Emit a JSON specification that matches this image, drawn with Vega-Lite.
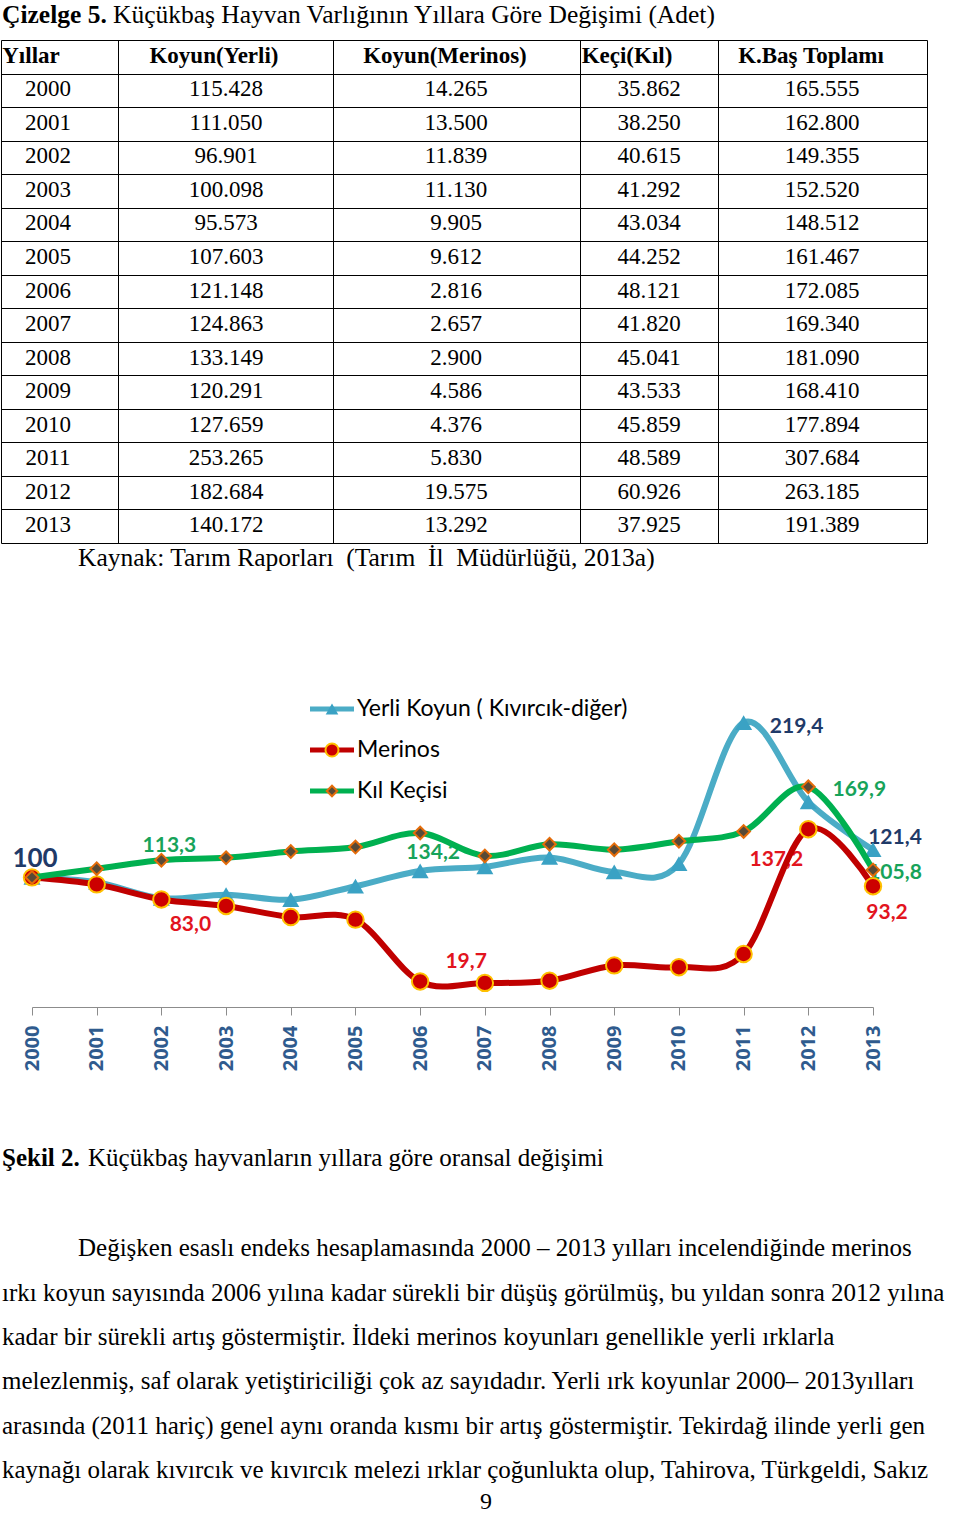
{
  "$schema": "https://vega.github.io/schema/vega-lite/v6.json",
  "width": 960,
  "height": 1514,
  "padding": 0,
  "autosize": {"type": "none"},
  "background": "#ffffff",
  "config": {
    "view": {"stroke": null},
    "locale": {"number": {"decimal": ",", "thousands": ".", "grouping": [3], "currency": ["", " TL"]}}
  },
  "datasets": {
    "tablo": [
      {"Yil": 2000, "Yerli": 115428, "Merinos": 14265, "Keci": 35862, "Toplam": 165555},
      {"Yil": 2001, "Yerli": 111050, "Merinos": 13500, "Keci": 38250, "Toplam": 162800},
      {"Yil": 2002, "Yerli": 96901, "Merinos": 11839, "Keci": 40615, "Toplam": 149355},
      {"Yil": 2003, "Yerli": 100098, "Merinos": 11130, "Keci": 41292, "Toplam": 152520},
      {"Yil": 2004, "Yerli": 95573, "Merinos": 9905, "Keci": 43034, "Toplam": 148512},
      {"Yil": 2005, "Yerli": 107603, "Merinos": 9612, "Keci": 44252, "Toplam": 161467},
      {"Yil": 2006, "Yerli": 121148, "Merinos": 2816, "Keci": 48121, "Toplam": 172085},
      {"Yil": 2007, "Yerli": 124863, "Merinos": 2657, "Keci": 41820, "Toplam": 169340},
      {"Yil": 2008, "Yerli": 133149, "Merinos": 2900, "Keci": 45041, "Toplam": 181090},
      {"Yil": 2009, "Yerli": 120291, "Merinos": 4586, "Keci": 43533, "Toplam": 168410},
      {"Yil": 2010, "Yerli": 127659, "Merinos": 4376, "Keci": 45859, "Toplam": 177894},
      {"Yil": 2011, "Yerli": 253265, "Merinos": 5830, "Keci": 48589, "Toplam": 307684},
      {"Yil": 2012, "Yerli": 182684, "Merinos": 19575, "Keci": 60926, "Toplam": 263185},
      {"Yil": 2013, "Yerli": 140172, "Merinos": 13292, "Keci": 37925, "Toplam": 191389}
    ],
    "sutunlar": [
      {"alan": "Yil", "baslik": "Yıllar", "sira": 1},
      {"alan": "Yerli", "baslik": "Koyun(Yerli)", "sira": 2},
      {"alan": "Merinos", "baslik": "Koyun(Merinos)", "sira": 3},
      {"alan": "Keci", "baslik": "Keçi(Kıl)", "sira": 4},
      {"alan": "Toplam", "baslik": "K.Baş Toplamı", "sira": 5}
    ],
    "endeks": [
      {"Yil": 2000, "seri": "Yerli Koyun ( Kıvırcık-diğer)", "endeks": 100},
      {"Yil": 2001, "seri": "Yerli Koyun ( Kıvırcık-diğer)", "endeks": 96.2},
      {"Yil": 2002, "seri": "Yerli Koyun ( Kıvırcık-diğer)", "endeks": 83.9},
      {"Yil": 2003, "seri": "Yerli Koyun ( Kıvırcık-diğer)", "endeks": 86.7},
      {"Yil": 2004, "seri": "Yerli Koyun ( Kıvırcık-diğer)", "endeks": 82.8},
      {"Yil": 2005, "seri": "Yerli Koyun ( Kıvırcık-diğer)", "endeks": 93.2},
      {"Yil": 2006, "seri": "Yerli Koyun ( Kıvırcık-diğer)", "endeks": 105.0},
      {"Yil": 2007, "seri": "Yerli Koyun ( Kıvırcık-diğer)", "endeks": 108.2},
      {"Yil": 2008, "seri": "Yerli Koyun ( Kıvırcık-diğer)", "endeks": 115.4},
      {"Yil": 2009, "seri": "Yerli Koyun ( Kıvırcık-diğer)", "endeks": 104.2},
      {"Yil": 2010, "seri": "Yerli Koyun ( Kıvırcık-diğer)", "endeks": 110.6},
      {"Yil": 2011, "seri": "Yerli Koyun ( Kıvırcık-diğer)", "endeks": 219.4},
      {"Yil": 2012, "seri": "Yerli Koyun ( Kıvırcık-diğer)", "endeks": 158.3},
      {"Yil": 2013, "seri": "Yerli Koyun ( Kıvırcık-diğer)", "endeks": 121.4},
      {"Yil": 2000, "seri": "Merinos", "endeks": 100},
      {"Yil": 2001, "seri": "Merinos", "endeks": 94.6},
      {"Yil": 2002, "seri": "Merinos", "endeks": 83.0},
      {"Yil": 2003, "seri": "Merinos", "endeks": 78.0},
      {"Yil": 2004, "seri": "Merinos", "endeks": 69.4},
      {"Yil": 2005, "seri": "Merinos", "endeks": 67.4},
      {"Yil": 2006, "seri": "Merinos", "endeks": 19.7},
      {"Yil": 2007, "seri": "Merinos", "endeks": 18.6},
      {"Yil": 2008, "seri": "Merinos", "endeks": 20.3},
      {"Yil": 2009, "seri": "Merinos", "endeks": 32.1},
      {"Yil": 2010, "seri": "Merinos", "endeks": 30.7},
      {"Yil": 2011, "seri": "Merinos", "endeks": 40.9},
      {"Yil": 2012, "seri": "Merinos", "endeks": 137.2},
      {"Yil": 2013, "seri": "Merinos", "endeks": 93.2},
      {"Yil": 2000, "seri": "Kıl Keçisi", "endeks": 100},
      {"Yil": 2001, "seri": "Kıl Keçisi", "endeks": 106.7},
      {"Yil": 2002, "seri": "Kıl Keçisi", "endeks": 113.3},
      {"Yil": 2003, "seri": "Kıl Keçisi", "endeks": 115.1},
      {"Yil": 2004, "seri": "Kıl Keçisi", "endeks": 120.0},
      {"Yil": 2005, "seri": "Kıl Keçisi", "endeks": 123.4},
      {"Yil": 2006, "seri": "Kıl Keçisi", "endeks": 134.2},
      {"Yil": 2007, "seri": "Kıl Keçisi", "endeks": 116.6},
      {"Yil": 2008, "seri": "Kıl Keçisi", "endeks": 125.6},
      {"Yil": 2009, "seri": "Kıl Keçisi", "endeks": 121.4},
      {"Yil": 2010, "seri": "Kıl Keçisi", "endeks": 127.9},
      {"Yil": 2011, "seri": "Kıl Keçisi", "endeks": 135.5},
      {"Yil": 2012, "seri": "Kıl Keçisi", "endeks": 169.9},
      {"Yil": 2013, "seri": "Kıl Keçisi", "endeks": 105.8}
    ],
    "yazilar": [
      {"satir": 1, "metin": "Çizelge 5."},
      {"satir": 1, "metin": "Küçükbaş Hayvan Varlığının Yıllara Göre Değişimi (Adet)"},
      {"satir": 2, "metin": "Kaynak: Tarım Raporları\u00a0 (Tarım\u00a0 İl\u00a0 Müdürlüğü, 2013a)"},
      {"satir": 3, "metin": "Şekil 2."},
      {"satir": 3, "metin": "Küçükbaş hayvanların yıllara göre oransal değişimi"},
      {"satir": 4, "metin": "Değişken esaslı endeks hesaplamasında 2000 – 2013 yılları incelendiğinde merinos"},
      {"satir": 5, "metin": "ırkı koyun sayısında 2006 yılına kadar sürekli bir düşüş görülmüş, bu yıldan sonra 2012 yılına"},
      {"satir": 6, "metin": "kadar bir sürekli artış göstermiştir. İldeki merinos koyunları genellikle yerli ırklarla"},
      {"satir": 7, "metin": "melezlenmiş, saf olarak yetiştiriciliği çok az sayıdadır. Yerli ırk koyunlar 2000– 2013yılları"},
      {"satir": 8, "metin": "arasında (2011 hariç) genel aynı oranda kısmı bir artış göstermiştir. Tekirdağ ilinde yerli gen"},
      {"satir": 9, "metin": "kaynağı olarak kıvırcık ve kıvırcık melezi ırklar çoğunlukta olup, Tahirova, Türkgeldi, Sakız"},
      {"satir": 10, "metin": "9"}
    ]
  },
  "resolve": {"scale": {"x": "independent", "y": "independent", "color": "independent", "shape": "independent", "fill": "independent", "stroke": "independent", "size": "independent"}},
  "layer": [
    {
      "data": {"name": "tablo"},
      "encoding": {
        "x": {"field": "sira", "type": "quantitative",
          "scale": {"domain": [0.5, 1, 1.5, 2, 2.5, 3, 3.5, 4, 4.5, 5, 5.5], "range": [1, 48, 118, 226, 333, 456, 580, 649, 718, 822, 927], "zero": false, "nice": false},
          "axis": {"orient": "top", "values": [0.5, 1.5, 2.5, 3.5, 4.5, 5.5], "grid": true, "gridColor": "#000000", "gridOpacity": 1, "gridWidth": 1, "labels": false, "ticks": false, "domain": false, "title": null}},
        "y": {"field": "Yil", "type": "quantitative",
          "scale": {"domain": [1998.5, 2013.5], "range": [40, 543], "zero": false, "nice": false},
          "axis": {"orient": "left", "values": [1998.5, 1999.5, 2000.5, 2001.5, 2002.5, 2003.5, 2004.5, 2005.5, 2006.5, 2007.5, 2008.5, 2009.5, 2010.5, 2011.5, 2012.5, 2013.5], "grid": true, "gridColor": "#000000", "gridOpacity": 1, "gridWidth": 1, "labels": false, "ticks": false, "domain": false, "title": null}}
      },
      "layer": [
        {
          "transform": [
            {"fold": ["Yil"], "as": ["alan", "deger"]},
            {"lookup": "alan", "from": {"data": {"name": "sutunlar"}, "key": "alan", "fields": ["sira"]}}
          ],
          "mark": {"type": "text", "font": "Liberation Serif", "fontSize": 23, "align": "center", "baseline": "alphabetic", "dy": 6, "color": "#000000"},
          "encoding": {"text": {"field": "deger", "type": "quantitative", "format": "d"}}
        },
        {
          "transform": [
            {"fold": ["Yerli", "Merinos", "Keci", "Toplam"], "as": ["alan", "deger"]},
            {"lookup": "alan", "from": {"data": {"name": "sutunlar"}, "key": "alan", "fields": ["sira"]}}
          ],
          "mark": {"type": "text", "font": "Liberation Serif", "fontSize": 23, "align": "center", "baseline": "alphabetic", "dy": 6, "color": "#000000"},
          "encoding": {"text": {"field": "deger", "type": "quantitative", "format": ",d"}}
        }
      ]
    },
    {
      "data": {"name": "sutunlar"},
      "mark": {"type": "text", "font": "Liberation Serif", "fontSize": 23, "fontWeight": "bold", "align": "center", "baseline": "alphabetic", "dy": 6, "color": "#000000"},
      "encoding": {
        "x": {"field": "sira", "type": "quantitative", "scale": {"domain": [1, 2, 3, 4, 5], "range": [31, 214, 445, 627, 811], "zero": false, "nice": false}, "axis": null},
        "y": {"datum": 1999, "type": "quantitative", "scale": {"domain": [1998.5, 2013.5], "range": [40, 543], "zero": false, "nice": false}, "axis": null},
        "text": {"field": "baslik"}
      }
    },
    {
      "data": {"name": "yazilar"},
      "encoding": {
        "x": {"datum": 0, "type": "quantitative", "scale": {"domain": [0, 1], "range": [2, 970], "zero": false, "nice": false}, "axis": null},
        "y": {"field": "satir", "type": "quantitative", "scale": {"domain": [1, 2, 3, 4, 5, 6, 7, 8, 9, 10], "range": [23, 566, 1166, 1256, 1301, 1345, 1389, 1434, 1478, 1509], "zero": false, "nice": false}, "axis": null},
        "text": {"field": "metin"}
      },
      "layer": [
        {
          "transform": [{"filter": "datum.satir == 1 && datum.metin == 'Çizelge 5.'"}],
          "mark": {"type": "text", "font": "Liberation Serif", "fontSize": 25.5, "fontWeight": "bold", "align": "left", "baseline": "alphabetic", "color": "#000000"}
        },
        {
          "transform": [{"filter": "datum.satir == 3 && datum.metin == 'Şekil 2.'"}],
          "mark": {"type": "text", "font": "Liberation Serif", "fontSize": 25, "fontWeight": "bold", "align": "left", "baseline": "alphabetic", "color": "#000000"}
        },
        {
          "transform": [{"filter": "datum.satir == 1 && datum.metin != 'Çizelge 5.'"}],
          "mark": {"type": "text", "font": "Liberation Serif", "fontSize": 25.5, "align": "left", "baseline": "alphabetic", "dx": 111, "color": "#000000"}
        },
        {
          "transform": [{"filter": "datum.satir == 3 && datum.metin != 'Şekil 2.'"}],
          "mark": {"type": "text", "font": "Liberation Serif", "fontSize": 25, "align": "left", "baseline": "alphabetic", "dx": 86, "color": "#000000"}
        },
        {
          "transform": [{"filter": "datum.satir == 2"}],
          "mark": {"type": "text", "font": "Liberation Serif", "fontSize": 25.5, "align": "left", "baseline": "alphabetic", "dx": 76, "color": "#000000"}
        },
        {
          "transform": [{"filter": "datum.satir == 4"}],
          "mark": {"type": "text", "font": "Liberation Serif", "fontSize": 25, "align": "left", "baseline": "alphabetic", "dx": 76, "color": "#000000"}
        },
        {
          "transform": [{"filter": {"field": "satir", "range": [5, 9]}}],
          "mark": {"type": "text", "font": "Liberation Serif", "fontSize": 25, "align": "left", "baseline": "alphabetic", "color": "#000000"}
        },
        {
          "transform": [{"filter": "datum.satir == 10"}],
          "mark": {"type": "text", "font": "Liberation Serif", "fontSize": 24, "align": "center", "baseline": "alphabetic", "color": "#000000"},
          "encoding": {"x": {"datum": 0.5, "type": "quantitative", "scale": {"domain": [0, 1], "range": [2, 970], "zero": false, "nice": false}, "axis": null}}
        }
      ]
    },
    {
      "data": {"name": "endeks"},
      "encoding": {
        "x": {"field": "Yil", "type": "quantitative",
          "scale": {"domain": [2000, 2013], "range": [32, 873], "zero": false, "nice": false},
          "axis": {"orient": "bottom", "offset": -507, "values": [2000, 2001, 2002, 2003, 2004, 2005, 2006, 2007, 2008, 2009, 2010, 2011, 2012, 2013], "format": "d", "labelAngle": 270, "labelFont": "Open Sans", "labelFontWeight": "bold", "labelFontSize": 20, "labelColor": "#2F5B8E", "labelPadding": 10, "tickSize": 8, "tickColor": "#8C8C8C", "tickWidth": 1, "domainColor": "#8C8C8C", "domainWidth": 1, "grid": false, "title": null, "labelOverlap": false, "labelFlush": false, "labelBound": false}},
        "y": {"field": "endeks", "type": "quantitative",
          "scale": {"domain": [0, 250], "range": [1007, 683], "zero": false, "nice": false},
          "axis": null}
      },
      "layer": [
        {"transform": [{"filter": "datum.Yil == 2000 && datum.seri == 'Yerli Koyun ( Kıvırcık-diğer)'"}], "mark": {"type": "text", "font": "Lato", "fontWeight": "bold", "fontSize": 26, "align": "center", "baseline": "middle", "dx": 3, "dy": -18, "color": "#1F3A68"}, "encoding": {"text": {"field": "endeks", "type": "quantitative", "format": ".0f"}}},
        {"transform": [{"filter": "datum.Yil == 2011 && datum.seri == 'Yerli Koyun ( Kıvırcık-diğer)'"}], "mark": {"type": "text", "font": "Lato", "fontWeight": "bold", "fontSize": 21, "align": "center", "baseline": "middle", "dx": 53, "dy": 4, "color": "#1F3A68"}, "encoding": {"text": {"field": "endeks", "type": "quantitative", "format": ".1f"}}},
        {"transform": [{"filter": "datum.Yil == 2013 && datum.seri == 'Yerli Koyun ( Kıvırcık-diğer)'"}], "mark": {"type": "text", "font": "Lato", "fontWeight": "bold", "fontSize": 21, "align": "center", "baseline": "middle", "dx": 22, "dy": -12, "color": "#1F3A68"}, "encoding": {"text": {"field": "endeks", "type": "quantitative", "format": ".1f"}}},
        {"transform": [{"filter": "datum.Yil == 2002 && datum.seri == 'Merinos'"}], "mark": {"type": "text", "font": "Lato", "fontWeight": "bold", "fontSize": 21, "align": "center", "baseline": "middle", "dx": 29, "dy": 26, "color": "#E2141E"}, "encoding": {"text": {"field": "endeks", "type": "quantitative", "format": ".1f"}}},
        {"transform": [{"filter": "datum.Yil == 2006 && datum.seri == 'Merinos'"}], "mark": {"type": "text", "font": "Lato", "fontWeight": "bold", "fontSize": 21, "align": "center", "baseline": "middle", "dx": 46, "dy": -19, "color": "#E2141E"}, "encoding": {"text": {"field": "endeks", "type": "quantitative", "format": ".1f"}}},
        {"transform": [{"filter": "datum.Yil == 2012 && datum.seri == 'Merinos'"}], "mark": {"type": "text", "font": "Lato", "fontWeight": "bold", "fontSize": 21, "align": "center", "baseline": "middle", "dx": -32, "dy": 31, "color": "#E2141E"}, "encoding": {"text": {"field": "endeks", "type": "quantitative", "format": ".1f"}}},
        {"transform": [{"filter": "datum.Yil == 2013 && datum.seri == 'Merinos'"}], "mark": {"type": "text", "font": "Lato", "fontWeight": "bold", "fontSize": 21, "align": "center", "baseline": "middle", "dx": 14, "dy": 27, "color": "#E2141E"}, "encoding": {"text": {"field": "endeks", "type": "quantitative", "format": ".1f"}}},
        {"transform": [{"filter": "datum.Yil == 2002 && datum.seri == 'Kıl Keçisi'"}], "mark": {"type": "text", "font": "Lato", "fontWeight": "bold", "fontSize": 21, "align": "center", "baseline": "middle", "dx": 8, "dy": -14, "color": "#17A35A"}, "encoding": {"text": {"field": "endeks", "type": "quantitative", "format": ".1f"}}},
        {"transform": [{"filter": "datum.Yil == 2006 && datum.seri == 'Kıl Keçisi'"}], "mark": {"type": "text", "font": "Lato", "fontWeight": "bold", "fontSize": 21, "align": "center", "baseline": "middle", "dx": 13, "dy": 20, "color": "#17A35A"}, "encoding": {"text": {"field": "endeks", "type": "quantitative", "format": ".1f"}}},
        {"transform": [{"filter": "datum.Yil == 2012 && datum.seri == 'Kıl Keçisi'"}], "mark": {"type": "text", "font": "Lato", "fontWeight": "bold", "fontSize": 21, "align": "center", "baseline": "middle", "dx": 51, "dy": 3, "color": "#17A35A"}, "encoding": {"text": {"field": "endeks", "type": "quantitative", "format": ".1f"}}},
        {"transform": [{"filter": "datum.Yil == 2013 && datum.seri == 'Kıl Keçisi'"}], "mark": {"type": "text", "font": "Lato", "fontWeight": "bold", "fontSize": 21, "align": "center", "baseline": "middle", "dx": 22, "dy": 3, "color": "#17A35A"}, "encoding": {"text": {"field": "endeks", "type": "quantitative", "format": ".1f"}}},
        {"transform": [{"filter": {"field": "seri", "equal": "Yerli Koyun ( Kıvırcık-diğer)"}}], "mark": {"type": "line", "interpolate": "cardinal", "color": "#4BACC6", "strokeWidth": 6}, "encoding": {}},
        {"transform": [{"filter": {"field": "seri", "equal": "Yerli Koyun ( Kıvırcık-diğer)"}}], "mark": {"type": "point", "shape": "triangle-up", "filled": true, "size": 290, "color": "#3AA2C4", "opacity": 1}, "encoding": {}},
        {"transform": [{"filter": {"field": "seri", "equal": "Merinos"}}], "mark": {"type": "line", "interpolate": "cardinal", "color": "#C00000", "strokeWidth": 6}, "encoding": {}},
        {"transform": [{"filter": {"field": "seri", "equal": "Merinos"}}], "mark": {"type": "point", "shape": "circle", "filled": true, "size": 270, "fill": "#CC0000", "stroke": "#FFC000", "strokeWidth": 2, "opacity": 1}, "encoding": {}},
        {"transform": [{"filter": {"field": "seri", "equal": "Kıl Keçisi"}}], "mark": {"type": "line", "interpolate": "cardinal", "color": "#00B050", "strokeWidth": 6}, "encoding": {}},
        {"transform": [{"filter": {"field": "seri", "equal": "Kıl Keçisi"}}], "mark": {"type": "point", "shape": "diamond", "filled": true, "size": 160, "fill": "#584A36", "stroke": "#E46C0A", "strokeWidth": 2, "opacity": 1}, "encoding": {}}
      ]
    },
    {
      "data": {"name": "endeks"},
      "transform": [{"filter": "datum.Yil == 2000"}],
      "encoding": {
        "y": {"field": "seri", "type": "nominal", "scale": {"type": "point", "domain": ["Yerli Koyun ( Kıvırcık-diğer)", "Merinos", "Kıl Keçisi"], "range": [709, 791], "padding": 0}, "axis": null}
      },
      "layer": [
        {
          "mark": {"type": "rule", "strokeWidth": 5},
          "encoding": {
            "x": {"datum": 0, "type": "quantitative", "scale": {"domain": [0, 1], "range": [310, 354], "zero": false, "nice": false}, "axis": null},
            "x2": {"datum": 1},
            "color": {"field": "seri", "type": "nominal", "scale": {"domain": ["Yerli Koyun ( Kıvırcık-diğer)", "Merinos", "Kıl Keçisi"], "range": ["#4BACC6", "#C00000", "#00B050"]}, "legend": null}
          }
        },
        {
          "transform": [{"filter": {"field": "seri", "equal": "Yerli Koyun ( Kıvırcık-diğer)"}}],
          "mark": {"type": "point", "shape": "triangle-up", "filled": true, "size": 160, "color": "#3AA2C4", "opacity": 1},
          "encoding": {"x": {"datum": 0.5, "type": "quantitative", "scale": {"domain": [0, 1], "range": [310, 354], "zero": false, "nice": false}, "axis": null}}
        },
        {
          "transform": [{"filter": {"field": "seri", "equal": "Merinos"}}],
          "mark": {"type": "point", "shape": "circle", "filled": true, "size": 170, "fill": "#CC0000", "stroke": "#FFC000", "strokeWidth": 2, "opacity": 1},
          "encoding": {"x": {"datum": 0.5, "type": "quantitative", "scale": {"domain": [0, 1], "range": [310, 354], "zero": false, "nice": false}, "axis": null}}
        },
        {
          "transform": [{"filter": {"field": "seri", "equal": "Kıl Keçisi"}}],
          "mark": {"type": "point", "shape": "diamond", "filled": true, "size": 110, "fill": "#584A36", "stroke": "#E46C0A", "strokeWidth": 2, "opacity": 1},
          "encoding": {"x": {"datum": 0.5, "type": "quantitative", "scale": {"domain": [0, 1], "range": [310, 354], "zero": false, "nice": false}, "axis": null}}
        },
        {
          "mark": {"type": "text", "font": "Lato", "fontSize": 23, "align": "left", "baseline": "middle", "dx": 3, "color": "#000000"},
          "encoding": {
            "x": {"datum": 1, "type": "quantitative", "scale": {"domain": [0, 1], "range": [310, 354], "zero": false, "nice": false}, "axis": null},
            "text": {"field": "seri"}
          }
        }
      ]
    }
  ]
}
